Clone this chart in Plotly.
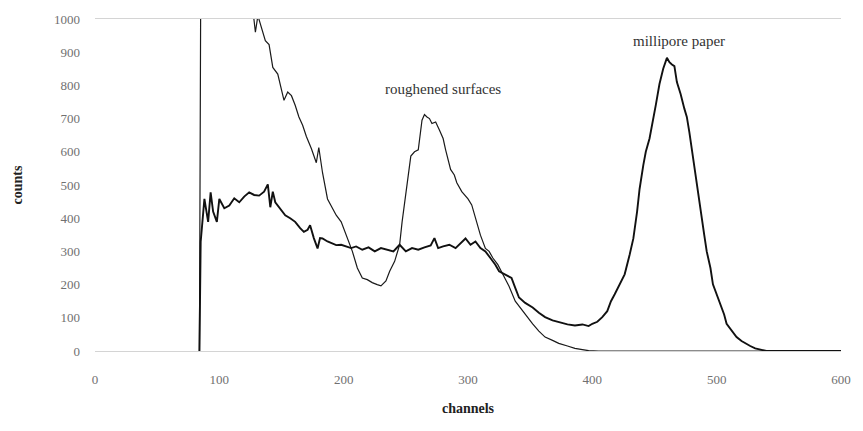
import plotly.graph_objects as go

# Curve with the "roughened surfaces" peak (values above 1000 run off the top of the chart)
rough_ch = [84, 85, 126, 129, 131, 134, 137, 140, 143, 147, 150, 152, 155, 158, 161, 164, 167, 170,
            174, 178, 180, 183, 187, 191, 194, 198, 202, 207, 211, 215, 219, 223, 227, 230, 234, 237,
            241, 245, 247, 251, 254, 257, 260, 263, 265, 267, 269, 271, 274, 277, 280, 282, 286, 289,
            291, 295, 300, 303, 306, 310, 314, 317, 320, 324, 328, 333, 338, 341, 346, 352, 357, 362,
            368, 373, 380, 386, 392, 397, 405, 600]
rough_counts = [0, 1060, 1060, 960, 1010, 972, 935, 923, 854, 834, 790, 755, 780, 769, 740, 705, 680, 646,
                610, 567, 613, 537, 458, 430, 409, 389, 349, 300, 250, 220, 215, 206, 200, 196, 211, 240,
                270, 320, 389, 507, 587, 600, 606, 695, 712, 705, 700, 685, 690, 666, 640, 606, 547, 530,
                507, 480, 458, 440, 398, 349, 309, 300, 280, 260, 231, 195, 150, 135, 110, 82, 60, 42,
                32, 23, 15, 8, 4, 1, 0, 0]

# Curve with the "millipore paper" peak
milli_ch = [84, 85, 88, 91, 93, 95, 98, 100, 104, 108, 112, 116, 120, 124, 128, 132, 136, 139, 141, 143,
            145, 149, 153, 157, 161, 165, 168, 171, 173, 176, 179, 181, 183, 187, 190, 194, 198, 202,
            206, 210, 215, 220, 225, 230, 235, 240, 245, 250, 255, 260, 265, 270, 273, 276, 280, 285,
            290, 295, 298, 302, 306, 310, 314, 318, 322, 325, 330, 335, 338, 341, 346, 352, 357, 362,
            368, 373, 380, 386, 392, 397, 400, 404, 408, 412, 415, 418, 422, 426, 430, 433, 436, 438,
            441, 443, 446, 448, 451, 454, 457, 460, 462, 464, 466, 468, 471, 474, 476, 478, 480, 482,
            484, 486, 488, 490, 492, 495, 497, 500, 503, 506, 508, 512, 516, 520, 523, 527, 531, 536,
            540, 600]
milli_counts = [0, 329, 458, 389, 478, 420, 389, 458, 430, 438, 460, 448, 465, 478, 470, 468, 480, 502, 433, 480,
                448, 430, 409, 400, 389, 370, 359, 365, 379, 340, 309, 340, 339, 330, 325, 319, 320, 314,
                310, 315, 305, 312, 300, 310, 305, 300, 320, 300, 310, 305, 312, 318, 340, 310, 315, 320,
                310, 330, 339, 320, 330, 310, 300, 280, 260, 240, 230, 220, 190, 161, 145, 131, 115, 102,
                92, 87, 80, 77, 80, 75, 82, 88, 102, 120, 150, 171, 200, 231, 290, 339, 420, 488,
                560, 600, 640, 676, 740, 804, 850, 883, 870, 863, 858, 810, 774, 730, 705, 660, 606, 550,
                497, 450, 398, 350, 300, 250, 201, 170, 142, 110, 82, 60, 42, 30, 23, 15, 8, 3,
                0, 0]

x_ticks = [0, 100, 200, 300, 400, 500, 600]
y_ticks = [0, 100, 200, 300, 400, 500, 600, 700, 800, 900, 1000]

serif = "Liberation Serif"

fig = go.Figure()
fig.add_trace(go.Scatter(x=rough_ch, y=rough_counts, mode="lines",
                         line=dict(color="#1a1a1a", width=1.2), name="roughened surfaces",
                         showlegend=False))
fig.add_trace(go.Scatter(x=milli_ch, y=milli_counts, mode="lines",
                         line=dict(color="#111111", width=1.9), name="millipore paper",
                         showlegend=False))

fig.add_annotation(x=280, y=790, text="roughened surfaces", showarrow=False,
                   font=dict(family=serif, size=15, color="#333333"))
fig.add_annotation(x=470, y=935, text="millipore paper", showarrow=False,
                   font=dict(family=serif, size=15, color="#333333"))

fig.update_layout(
    width=863, height=431,
    margin=dict(l=95, r=20, t=14, b=80),
    paper_bgcolor="white", plot_bgcolor="white",
    showlegend=False,
    xaxis=dict(range=[0, 600], tickvals=x_ticks, ticktext=[str(v) for v in x_ticks],
               showgrid=False, zeroline=False, showline=True, linecolor="#d4d4d4", linewidth=1,
               mirror=True, ticks="", ticklabelstandoff=16,
               tickfont=dict(family=serif, size=13, color="#707070"),
               title=dict(text="<b>channels</b>", font=dict(family=serif, size=14, color="#222222"),
                          standoff=17)),
    yaxis=dict(range=[0, 1000], tickvals=y_ticks, ticktext=[str(v) for v in y_ticks],
               showgrid=False, zeroline=False, showline=False, ticks="", ticklabelstandoff=14,
               tickfont=dict(family=serif, size=13, color="#707070"),
               title=dict(text="<b>counts</b>", font=dict(family=serif, size=14, color="#222222"),
                          standoff=28)),
)

fig.write_html("out.html")
